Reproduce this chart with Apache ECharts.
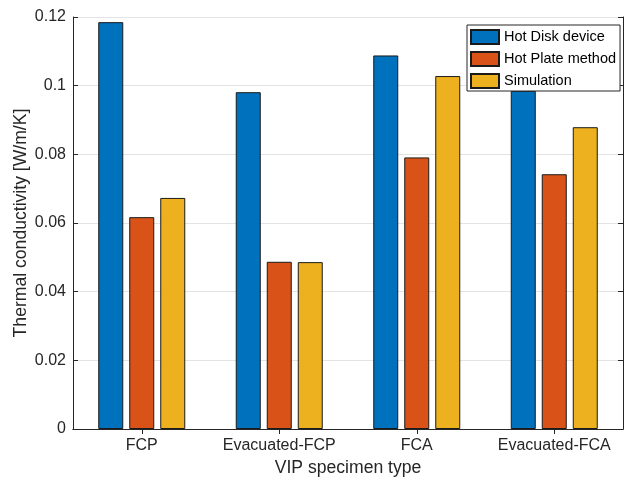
<!DOCTYPE html>
<html>
<head>
<meta charset="utf-8">
<script src="https://cdn.jsdelivr.net/npm/echarts@6/dist/echarts.min.js"></script>
<style>html,body{margin:0;padding:0;background:#fff;overflow:hidden}#c{width:624px;height:479px}</style>
</head>
<body>
<div id="c"></div>
<script>
const categories = ['FCP', 'Evacuated-FCP', 'FCA', 'Evacuated-FCA'];
const hotDisk = [0.1185, 0.0981, 0.1088, 0.0985];
const hotPlate = [0.0617, 0.0487, 0.0791, 0.0742];
const simulation = [0.0673, 0.0486, 0.1028, 0.0879];
const seriesNames = ['Hot Disk device', 'Hot Plate method', 'Simulation'];
const yTicks = [0, 0.02, 0.04, 0.06, 0.08, 0.1, 0.12];

const font = 'Liberation Sans, Arial, Helvetica, sans-serif';
const axisColor = '#262626';
const colors = ['#0072BD', '#D95319', '#EDB120'];

const chart = echarts.init(document.getElementById('c'), null, {renderer: 'canvas', width: 624, height: 479});
const barStyle = (c) => ({color: c, borderColor: '#1a1a1a', borderWidth: 1});

chart.setOption({
  animation: false,
  backgroundColor: '#fff',
  textStyle: {fontFamily: font},
  grid: {left: 73, right: 1, top: 17, bottom: 50, containLabel: false, outerBoundsMode: 'none'},
  legend: {
    orient: 'vertical',
    left: 467, top: 25,
    padding: [4, 4, 2, 3],
    itemWidth: 28, itemHeight: 14, itemGap: 6,
    backgroundColor: '#fff',
    borderColor: axisColor, borderWidth: 1,
    icon: 'rect',
    textStyle: {fontSize: 14.5, lineHeight: 14, color: '#000', fontFamily: font},
    data: seriesNames
  },
  xAxis: [{
    type: 'category', data: categories,
    name: 'VIP specimen type', nameLocation: 'middle', nameGap: 30, nameMoveOverlap: false,
    nameTextStyle: {fontSize: 17.6, color: axisColor, fontFamily: font},
    axisLine: {show: true, lineStyle: {color: axisColor, width: 1}},
    axisTick: {show: true, inside: true, alignWithLabel: true, length: 5, lineStyle: {color: axisColor}},
    axisLabel: {fontSize: 16, color: axisColor, margin: 9, interval: 0, hideOverlap: false, fontFamily: font},
    splitLine: {show: false}
  }, {
    type: 'category', data: categories, position: 'top',
    axisLine: {show: true, lineStyle: {color: axisColor, width: 1}},
    axisTick: {show: true, inside: true, alignWithLabel: true, interval: 0, length: 5, lineStyle: {color: axisColor}},
    axisLabel: {show: false},
    splitLine: {show: false}
  }],
  yAxis: [{
    type: 'value', min: 0, max: 0.12, interval: 0.02,
    name: 'Thermal conductivity [W/m/K]', nameLocation: 'middle', nameGap: 43, nameMoveOverlap: false,
    nameTextStyle: {fontSize: 17.6, color: axisColor, fontFamily: font},
    axisLine: {show: true, lineStyle: {color: axisColor, width: 1}},
    axisTick: {show: true, inside: true, length: 5, lineStyle: {color: axisColor}},
    axisLabel: {fontSize: 16, color: axisColor, margin: 7, fontFamily: font,
      formatter: (v) => { const t = yTicks.find(x => Math.abs(x - v) < 1e-9); return t === undefined ? '' : String(+t.toFixed(2)); }},
    splitLine: {show: true, lineStyle: {color: '#e3e3e3', width: 1}}
  }, {
    type: 'value', min: 0, max: 0.12, interval: 0.02, position: 'right',
    axisLine: {show: true, lineStyle: {color: axisColor, width: 1}},
    axisTick: {show: true, inside: true, length: 5, lineStyle: {color: axisColor}},
    axisLabel: {show: false},
    splitLine: {show: false}
  }],
  series: [
    {name: seriesNames[0], type: 'bar', data: hotDisk, barWidth: 25, barGap: '24%', itemStyle: barStyle(colors[0])},
    {name: seriesNames[1], type: 'bar', data: hotPlate, barWidth: 25, barGap: '24%', itemStyle: barStyle(colors[1])},
    {name: seriesNames[2], type: 'bar', data: simulation, barWidth: 25, barGap: '24%', itemStyle: barStyle(colors[2])}
  ]
});
</script>
</body>
</html>
